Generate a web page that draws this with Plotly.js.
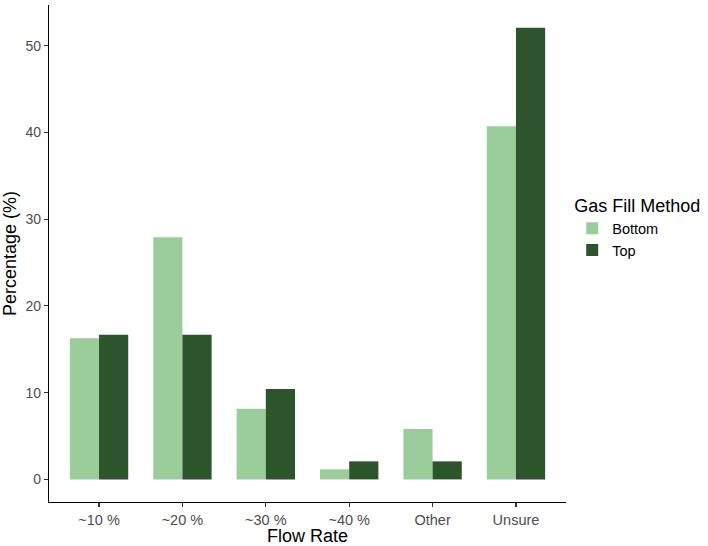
<!DOCTYPE html>
<html>
<head>
<meta charset="utf-8">
<script src="https://cdn.plot.ly/plotly-3.0.1.min.js"></script>
<style>html,body{margin:0;padding:0;background:#fff;}#chart{width:708px;height:546px;}</style>
</head>
<body>
<div id="chart"></div>
<script>
const categories = ["~10 %", "~20 %", "~30 %", "~40 %", "Other", "Unsure"];
const bottomValues = [16.28, 27.91, 8.14, 1.16, 5.81, 40.70];
const topValues = [16.67, 16.67, 10.42, 2.08, 2.08, 52.08];
const seriesNames = ["Bottom", "Top"];
const seriesColors = ["#9BCD9B", "#2C552C"];
const yTicks = [0, 10, 20, 30, 40, 50];

const font = "Liberation Sans, Arial, sans-serif";
const xIdx = categories.map((_, i) => i);

const traces = [bottomValues, topValues].map((vals, k) => ({
  type: "bar",
  name: seriesNames[k],
  x: xIdx,
  y: vals,
  marker: {color: seriesColors[k], line: {width: 0}},
  hoverinfo: "skip"
}));

const layout = {
  width: 708, height: 546,
  margin: {l: 49, r: 142, t: 5, b: 44},
  paper_bgcolor: "#fff", plot_bgcolor: "#fff",
  barmode: "group", bargap: 0.3, bargroupgap: 0,
  font: {family: font, color: "#000"},
  xaxis: {
    range: [-0.6, 5.6],
    tickvals: xIdx, ticktext: categories,
    showgrid: false, zeroline: false,
    showline: true, linecolor: "#000", linewidth: 1.2,
    ticks: "outside", ticklen: 4, tickwidth: 1.1, tickcolor: "#333",
    tickfont: {family: font, size: 14.5, color: "#4d4d4d"},
    title: {text: "Flow Rate", font: {family: font, size: 18, color: "#000"}, standoff: 2}
  },
  yaxis: {
    range: [-2.604, 54.69],
    tickvals: yTicks, ticktext: yTicks.map(String),
    showgrid: false, zeroline: false,
    showline: true, linecolor: "#000", linewidth: 1.2,
    ticks: "outside", ticklen: 4, tickwidth: 1.1, tickcolor: "#333",
    tickfont: {family: font, size: 14, color: "#4d4d4d"},
    title: {text: "Percentage (%)", font: {family: font, size: 18, color: "#000"}, standoff: 4}
  },
  showlegend: true,
  legend: {
    x: 1.012, xanchor: "left", y: 0.63, yanchor: "top",
    title: {text: "Gas Fill Method", font: {family: font, size: 18, color: "#000"}},
    font: {family: font, size: 14.5, color: "#000"},
    traceorder: "normal",
    itemwidth: 30,
    bgcolor: "rgba(0,0,0,0)"
  }
};

Plotly.newPlot("chart", traces, layout, {displayModeBar: false, staticPlot: true});
</script>
</body>
</html>
